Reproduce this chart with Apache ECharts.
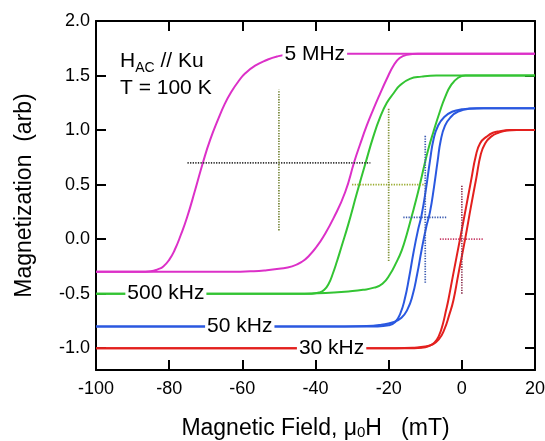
<!DOCTYPE html>
<html>
<head>
<meta charset="utf-8">
<script src="https://cdn.jsdelivr.net/npm/echarts@6/dist/echarts.min.js"></script>
<style>
html,body{margin:0;padding:0;background:#fff;}
#chart{width:545px;height:441px;}
</style>
</head>
<body>
<div id="chart"></div>
<script>
// ---- data ----
const xTicks = [-100, -80, -60, -40, -20, 0, 20];
const yTicks = [-1.0, -0.5, 0.0, 0.5, 1.0, 1.5, 2.0];

// 5 MHz loop (magenta)
const magentaA = [[-100,-0.30],[-88,-0.30],[-85,-0.295],[-83,-0.275],[-81.6,-0.25],[-80,-0.19],[-78.5,-0.10],[-76.8,0.04],[-75.1,0.20],[-72.9,0.45],[-70.7,0.71],[-68.8,0.91],[-66.6,1.10],[-64.8,1.24],[-63.2,1.34],[-61,1.45],[-59.2,1.52],[-56.5,1.59],[-53.5,1.64],[-50.5,1.675],[-47,1.695],[-43,1.70],[20,1.70]];
const magentaB = [[-100,-0.30],[-62,-0.30],[-57.8,-0.295],[-54,-0.287],[-50,-0.272],[-46.4,-0.25],[-43.6,-0.205],[-41.7,-0.15],[-39.7,-0.07],[-37.9,0.02],[-35.1,0.19],[-31.9,0.43],[-29.4,0.71],[-27.8,0.87],[-26,1.04],[-24.2,1.19],[-22.4,1.33],[-20.5,1.47],[-18.7,1.59],[-17,1.66],[-15,1.69],[-12,1.70],[20,1.70]];
// 500 kHz loop (green)
const greenA = [[-100,-0.5],[-41,-0.5],[-39,-0.49],[-37.6,-0.465],[-36.4,-0.41],[-35.3,-0.32],[-34.1,-0.2],[-32.9,-0.07],[-31,0.14],[-28.7,0.42],[-26.3,0.70],[-24.2,0.94],[-22.3,1.12],[-20.5,1.25],[-18.6,1.34],[-16.9,1.41],[-14.2,1.47],[-11,1.49],[-7,1.5],[20,1.5]];
const greenB = [[-100,-0.5],[-45,-0.5],[-40,-0.497],[-35,-0.49],[-31,-0.48],[-27,-0.465],[-24,-0.445],[-21.7,-0.41],[-19.6,-0.32],[-18,-0.22],[-16.4,-0.10],[-15,0.05],[-13.7,0.21],[-12.5,0.36],[-11.4,0.51],[-10.3,0.67],[-9.2,0.82],[-7.8,0.98],[-6,1.17],[-4.6,1.3],[-3,1.41],[-1,1.48],[1,1.5],[20,1.5]];
// 50 kHz loop (blue)
const blueA = [[-100,-0.8],[-23,-0.8],[-20,-0.79],[-18.2,-0.76],[-16.8,-0.68],[-15.6,-0.55],[-14.4,-0.35],[-13.2,-0.12],[-12,0.08],[-11,0.22],[-9.8,0.46],[-8.7,0.72],[-7.7,0.92],[-6.5,1.04],[-4.8,1.12],[-2.5,1.17],[0,1.19],[4,1.2],[20,1.2]];
const blueB = [[-100,-0.8],[-32,-0.8],[-26,-0.797],[-22,-0.785],[-19,-0.765],[-16.5,-0.72],[-14.8,-0.64],[-13.5,-0.52],[-12.2,-0.32],[-11,-0.1],[-9.8,0.1],[-8.7,0.25],[-7.6,0.48],[-6.6,0.72],[-5.8,0.9],[-4.6,1.04],[-3,1.12],[-1,1.17],[2,1.195],[6,1.2],[20,1.2]];
// 30 kHz loop (red)
const redA = [[-100,-1.0],[-15,-1.0],[-11,-0.995],[-9,-0.98],[-7.5,-0.95],[-6.3,-0.89],[-5.2,-0.78],[-4.3,-0.65],[-3.7,-0.56],[-2.4,-0.33],[-0.5,0.0],[1.2,0.30],[2.6,0.55],[3.8,0.76],[5,0.88],[6.8,0.94],[8.5,0.975],[10.4,0.99],[13,1.0],[20,1.0]];
const redB = [[-100,-1.0],[-18,-1.0],[-13,-0.995],[-10,-0.985],[-8,-0.965],[-6.3,-0.92],[-4.8,-0.83],[-3.4,-0.69],[-2.3,-0.56],[-1,-0.33],[0.9,0.0],[2.5,0.30],[3.9,0.55],[5.2,0.78],[6.4,0.88],[8,0.94],[10,0.975],[12.3,0.995],[15,1.0],[20,1.0]];

// dotted crosses: horizontal [x1, x2, y], vertical [x, y1, y2]
const crossH = [[-75,-25,0.7],[-30,-10,0.5],[-16,-4,0.2],[-6,6,0.0]];
const crossV = [[-50,0.08,1.37],[-20,-0.2,1.2],[-10,-0.4,0.96],[0,-0.5,0.5]];

// curve labels
const curveLabels = [
  {name:'5 MHz', value:[-40.2, 1.7]},
  {name:'500 kHz', value:[-80.9, -0.5]},
  {name:'50 kHz', value:[-60.7, -0.8]},
  {name:'30 kHz', value:[-35.6, -1.0]}
];

// ---- styling ----
const FONT = 'Liberation Sans, Arial, Helvetica, sans-serif';
const C_MAG = '#dc30c8', C_GRN = '#33c433', C_BLU = '#2a58e0', C_RED = '#e3201e';
const crossHColors = ['#333333','#9aac30','#3a5ab0','#c8406a'];
const crossVColors = ['#748434','#7f9034','#3a5ab0','#8e3452'];

function curve(data, color) {
  return {type:'line', data:data, showSymbol:false, symbol:'none', smooth:0.5,
    lineStyle:{color:color, width:2}, z:3, silent:true};
}
const series = [
  curve(magentaA, C_MAG), curve(magentaB, C_MAG),
  curve(greenA, C_GRN), curve(greenB, C_GRN),
  curve(blueA, C_BLU), curve(blueB, C_BLU),
  curve(redA, C_RED), curve(redB, C_RED)
];
crossH.forEach((h, i) => {
  series.push({type:'line', data:[[h[0],h[2]],[h[1],h[2]]], symbol:'none',
    lineStyle:{color:crossHColors[i], width:1.7, type:[1.3,1.3]}, z:4, silent:true});
});
crossV.forEach((v, i) => {
  series.push({type:'line', data:[[v[0],v[1]],[v[0],v[2]]], symbol:'none',
    lineStyle:{color:crossVColors[i], width:1.7, type:[1.3,1.3]}, z:4, silent:true});
});
series.push({type:'scatter', data:curveLabels, symbolSize:0, z:10, silent:true,
  itemStyle:{opacity:1},
  label:{show:true, position:'inside', formatter:'{b}', fontSize:21, fontFamily:FONT, color:'#000',
    opacity:1, textBorderWidth:0, backgroundColor:'#fff', padding:[1,2,0,2]}});

const axisLineStyle = {color:'#000', width:2};
const option = {
  animation:false,
  backgroundColor:'#fff',
  grid:{left:96, right:10, top:21, bottom:71, outerBoundsMode:'none', containLabel:false},
  xAxis:[
    {type:'value', min:-100, max:20, interval:20, position:'bottom',
     axisLine:{onZero:false, lineStyle:axisLineStyle}, axisTick:{inside:true, length:10, lineStyle:{color:'#000', width:2}},
     axisLabel:{fontSize:18, color:'#000', margin:10, fontFamily:FONT,
       customValues:xTicks, formatter:v=>String(v)},
     splitLine:{show:false},
     name:'Magnetic Field, μ{s|0}H   (mT)', nameLocation:'middle', nameGap:47,
     nameTextStyle:{fontSize:23, color:'#000', fontFamily:FONT, lineHeight:23,
       rich:{s:{fontSize:15, lineHeight:6, verticalAlign:'bottom', color:'#000', fontFamily:FONT}}}},
    {type:'value', min:-100, max:20, interval:20, position:'top',
     axisLine:{onZero:false, lineStyle:axisLineStyle}, axisTick:{inside:true, length:10, lineStyle:{color:'#000', width:2}},
     axisLabel:{show:false}, splitLine:{show:false}}
  ],
  yAxis:[
    {type:'value', min:-1.2, max:2.0, position:'left',
     axisLine:{onZero:false, lineStyle:axisLineStyle},
     axisTick:{inside:true, length:10, customValues:yTicks, lineStyle:{color:'#000', width:2}},
     axisLabel:{fontSize:18, color:'#000', margin:6, fontFamily:FONT, customValues:yTicks,
       formatter:v=>Number(v).toFixed(1)},
     splitLine:{show:false},
     name:'Magnetization  (arb)', nameLocation:'middle', nameGap:60, nameRotate:90,
     nameTextStyle:{fontSize:23, color:'#000', fontFamily:FONT}},
    {type:'value', min:-1.2, max:2.0, position:'right',
     axisLine:{onZero:false, lineStyle:axisLineStyle},
     axisTick:{inside:true, length:10, customValues:yTicks, lineStyle:{color:'#000', width:2}},
     axisLabel:{show:false}, splitLine:{show:false}}
  ],
  graphic:[
    {type:'text', left:120, top:48, z:20, silent:true,
     style:{text:'H{s|AC} // Ku\nT = 100 K', fill:'#000', fontSize:21, fontFamily:FONT, lineHeight:27,
       rich:{s:{fontSize:14, lineHeight:12, verticalAlign:'bottom', fill:'#000', fontFamily:FONT}}}}
  ],
  series:series
};
const chart = echarts.init(document.getElementById('chart'), null, {renderer:'canvas'});
chart.setOption(option);
</script>
</body>
</html>
